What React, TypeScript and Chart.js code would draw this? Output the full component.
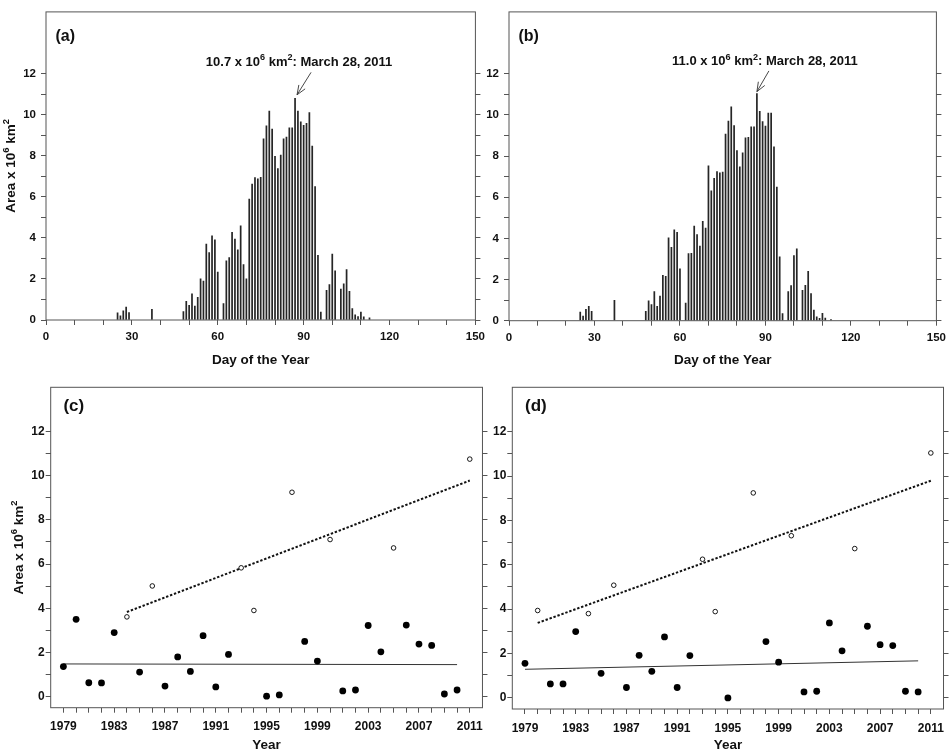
import React, { useEffect, useRef } from "react";
import { Chart, registerables } from "chart.js";
Chart.register(...registerables);

// ---------- DATA ----------
const daysA = [25, 26, 27, 28, 29, 37, 48, 49, 50, 51, 52, 53, 54, 55, 56, 57, 58, 59, 60, 62, 63, 64, 65, 66, 67, 68, 69, 70, 71, 72, 73, 74, 75, 76, 77, 78, 79, 80, 81, 82, 83, 84, 85, 86, 87, 88, 89, 90, 91, 92, 93, 94, 95, 96, 98, 99, 100, 101, 103, 104, 105, 106, 107, 108, 109, 110, 111, 113];
const areaA = [0.35, 0.2, 0.45, 0.63, 0.36, 0.52, 0.41, 0.91, 0.71, 1.28, 0.68, 1.1, 2.0, 1.9, 3.7, 3.28, 4.1, 3.9, 2.33, 0.8, 2.88, 3.04, 4.27, 3.94, 3.42, 4.58, 2.7, 2.0, 5.89, 6.62, 6.93, 6.87, 6.95, 8.82, 9.45, 10.17, 9.3, 7.97, 7.37, 8.03, 8.82, 8.9, 9.35, 9.35, 10.79, 10.17, 9.65, 9.48, 9.57, 10.1, 8.47, 6.5, 3.15, 0.38, 1.45, 1.73, 3.21, 2.39, 1.51, 1.76, 2.46, 1.39, 0.55, 0.25, 0.17, 0.39, 0.16, 0.1];

const daysB = [25, 26, 27, 28, 29, 37, 48, 49, 50, 51, 52, 53, 54, 55, 56, 57, 58, 59, 60, 62, 63, 64, 65, 66, 67, 68, 69, 70, 71, 72, 73, 74, 75, 76, 77, 78, 79, 80, 81, 82, 83, 84, 85, 86, 87, 88, 89, 90, 91, 92, 93, 94, 95, 96, 98, 99, 100, 101, 103, 104, 105, 106, 107, 108, 109, 110, 111, 113];
const areaB = [0.42, 0.23, 0.55, 0.7, 0.45, 0.99, 0.45, 0.97, 0.78, 1.41, 0.7, 1.19, 2.2, 2.15, 4.03, 3.56, 4.42, 4.29, 2.52, 0.85, 3.26, 3.27, 4.6, 4.18, 3.63, 4.83, 4.5, 7.52, 6.31, 6.92, 7.24, 7.18, 7.22, 9.07, 9.7, 10.39, 9.48, 8.26, 7.47, 8.15, 8.88, 8.91, 9.42, 9.42, 11.03, 10.17, 9.67, 9.45, 10.09, 10.09, 8.44, 6.49, 3.1, 0.34, 1.41, 1.71, 3.16, 3.49, 1.47, 1.72, 2.4, 1.32, 0.52, 0.19, 0.11, 0.36, 0.13, 0.06];

const peakDay = 87;
const peakLabelA = "10.7";
const peakLabelB = "11.0";
const peakDate = "March 28, 2011";

const yearsFilledC = [1979, 1980, 1981, 1982, 1983, 1985, 1987, 1988, 1989, 1990, 1991, 1992, 1995, 1996, 1998, 1999, 2001, 2002, 2003, 2004, 2006, 2007, 2008, 2009, 2010];
const areaFilledC = [1.36, 3.5, 0.63, 0.62, 2.9, 1.11, 0.48, 1.8, 1.14, 2.76, 0.44, 1.91, 0.02, 0.08, 2.5, 1.61, 0.26, 0.3, 3.22, 2.03, 3.24, 2.38, 2.32, 0.12, 0.3];
const yearsOpenC = [1984, 1986, 1993, 1994, 1997, 2000, 2005, 2011];
const areaOpenC = [3.61, 5.01, 5.83, 3.9, 9.25, 7.11, 6.73, 10.75];
const trendFilledC = [[1979, 1.48], [2010, 1.45]];
const trendOpenC = [[1984, 3.83], [2011, 9.78]];

const yearsFilledD = [1979, 1981, 1982, 1983, 1985, 1987, 1988, 1989, 1990, 1991, 1992, 1995, 1998, 1999, 2001, 2002, 2003, 2004, 2006, 2007, 2008, 2009, 2010];
const areaFilledD = [1.56, 0.63, 0.63, 2.99, 1.11, 0.47, 1.92, 1.2, 2.75, 0.47, 1.91, 0.0, 2.54, 1.61, 0.27, 0.3, 3.38, 2.12, 3.23, 2.4, 2.36, 0.3, 0.27];
const yearsOpenD = [1980, 1984, 1986, 1993, 1994, 1997, 2000, 2005, 2011];
const areaOpenD = [3.94, 3.8, 5.08, 6.25, 3.89, 9.24, 7.31, 6.73, 11.04];
const trendFilledD = [[1979, 1.29], [2010, 1.67]];
const trendOpenD = [[1980, 3.38], [2011, 9.79]];

const dayTicks = [0, 10, 20, 30, 40, 50, 60, 70, 80, 90, 100, 110, 120, 130, 140, 150];
const dayLabels = [0, 30, 60, 90, 120, 150];
const areaTicks = [0, 1, 2, 3, 4, 5, 6, 7, 8, 9, 10, 11, 12];
const areaLabels = [0, 2, 4, 6, 8, 10, 12];
const yearTicks = [1979, 1980, 1981, 1982, 1983, 1984, 1985, 1986, 1987, 1988, 1989, 1990, 1991, 1992, 1993, 1994, 1995, 1996, 1997, 1998, 1999, 2000, 2001, 2002, 2003, 2004, 2005, 2006, 2007, 2008, 2009, 2010, 2011];
const yearLabels = [1979, 1983, 1987, 1991, 1995, 1999, 2003, 2007, 2011];

// ---------- STYLE ----------
const FONT = "'Liberation Sans', Arial, Helvetica, sans-serif";
const INK = "#111";
const FRAME = "#555";

type Seg = { t: string; sup?: boolean };
const areaTitle: Seg[] = [{ t: "Area x 10" }, { t: "6", sup: true }, { t: " km" }, { t: "2", sup: true }];

function drawRich(ctx: CanvasRenderingContext2D, segs: Seg[], x: number, y: number, size: number, align: "center" | "left") {
  const sup = size * 0.7;
  const widths = segs.map((s) => {
    ctx.font = `bold ${s.sup ? sup : size}px ${FONT}`;
    return ctx.measureText(s.t).width;
  });
  const total = widths.reduce((a, b) => a + b, 0);
  let cx = align === "center" ? x - total / 2 : x;
  ctx.textAlign = "left";
  ctx.textBaseline = "alphabetic";
  segs.forEach((s, i) => {
    ctx.font = `bold ${s.sup ? sup : size}px ${FONT}`;
    ctx.fillText(s.t, cx, s.sup ? y - size * 0.42 : y);
    cx += widths[i];
  });
}

type Decor = {
  panel: string;
  panelSize: number;
  panelDx: number;
  panelDy: number;
  yTitleX?: number;
  annot?: {
    label: string; value: number;
    textDx: number; textDy: number; tipDx: number; tipDy: number; tailDx: number; tailDy: number;
  };
};

function decorPlugin(cfg: Decor) {
  return {
    id: "decor",
    afterDraw(chart: any) {
      const { ctx, chartArea: ca, scales } = chart;
      ctx.save();
      ctx.strokeStyle = FRAME;
      ctx.lineWidth = 1;
      ctx.strokeRect(ca.left, ca.top, ca.right - ca.left, ca.bottom - ca.top);
      ctx.fillStyle = INK;
      ctx.textAlign = "left";
      ctx.textBaseline = "alphabetic";
      ctx.font = `bold ${cfg.panelSize}px ${FONT}`;
      ctx.fillText(cfg.panel, ca.left + cfg.panelDx, ca.top + cfg.panelDy);
      if (cfg.yTitleX != null) {
        ctx.save();
        ctx.translate(cfg.yTitleX, (ca.top + ca.bottom) / 2);
        ctx.rotate(-Math.PI / 2);
        drawRich(ctx, areaTitle, 0, 0, 13.5, "center");
        ctx.restore();
      }
      if (cfg.annot) {
        const a = cfg.annot;
        const bx = scales.x.getPixelForValue(peakDay);
        const by = scales.y.getPixelForValue(a.value);
        const segs: Seg[] = [{ t: `${a.label} x 10` }, { t: "6", sup: true }, { t: " km" }, { t: "2", sup: true }, { t: `: ${peakDate}` }];
        drawRich(ctx, segs, bx + a.textDx, by + a.textDy, 13, "center");
        const tx = bx + a.tipDx, ty = by + a.tipDy, sx = bx + a.tailDx, sy = by + a.tailDy;
        ctx.strokeStyle = "#333";
        ctx.lineWidth = 0.9;
        ctx.beginPath();
        ctx.moveTo(sx, sy);
        ctx.lineTo(tx, ty);
        const ang = Math.atan2(ty - sy, tx - sx);
        const L = 10;
        ctx.moveTo(tx, ty);
        ctx.lineTo(tx - L * Math.cos(ang - 0.38), ty - L * Math.sin(ang - 0.38));
        ctx.moveTo(tx, ty);
        ctx.lineTo(tx - L * Math.cos(ang + 0.38), ty - L * Math.sin(ang + 0.38));
        ctx.stroke();
      }
      ctx.restore();
    },
  };
}

type Box = { yWidth: number; y2Width: number; xHeight: number; padTop: number; xPad: number; yPad: number; titlePad: number; tickSize: number };

function axes(box: Box, x: { min: number; max: number; ticks: number[]; labels: number[]; title: string }, y: { min: number; max: number }) {
  const tickFont = { family: FONT, size: box.tickSize, weight: "bold" as const };
  const grid = { drawOnChartArea: false, drawTicks: true, tickLength: 5, color: FRAME, lineWidth: 1, offset: false };
  const yTicksFn = (s: any) => { s.ticks = areaTicks.map((v) => ({ value: v })); };
  return {
    x: {
      type: "linear" as const, min: x.min, max: x.max, offset: false,
      afterBuildTicks: (s: any) => { s.ticks = x.ticks.map((v) => ({ value: v })); },
      afterFit: (s: any) => { s.height = box.xHeight; },
      grid, border: { display: false },
      ticks: { autoSkip: false, maxRotation: 0, padding: box.xPad, font: tickFont, color: INK, callback: (v: any) => (x.labels.includes(Number(v)) ? String(v) : "") },
      title: { display: true, text: x.title, color: INK, font: { family: FONT, size: 13.5, weight: "bold" as const }, padding: { top: 0, bottom: box.titlePad } },
    },
    y: {
      type: "linear" as const, position: "left" as const, min: y.min, max: y.max,
      afterBuildTicks: yTicksFn,
      afterFit: (s: any) => { s.width = box.yWidth; },
      grid, border: { display: false },
      ticks: { autoSkip: false, padding: box.yPad, font: tickFont, color: INK, callback: (v: any) => (areaLabels.includes(Number(v)) ? String(v) : "") },
    },
    y2: {
      type: "linear" as const, position: "right" as const, min: y.min, max: y.max,
      afterBuildTicks: yTicksFn,
      afterFit: (s: any) => { s.width = box.y2Width; },
      grid, border: { display: false },
      ticks: { display: false },
    },
  };
}

function barConfig(days: number[], areas: number[], box: Box, decor: Decor): any {
  return {
    type: "bar",
    data: {
      datasets: [{
        data: days.map((d, i) => ({ x: d, y: areas[i] })),
        backgroundColor: "#262626",
        borderWidth: 0,
        barThickness: 1.05,
        yAxisID: "y",
      }],
    },
    options: {
      responsive: false, animation: false,
      layout: { padding: { top: box.padTop, left: 0, right: 0, bottom: 0 } },
      plugins: { legend: { display: false }, tooltip: { enabled: false } },
      scales: axes(box, { min: 0, max: 150, ticks: dayTicks, labels: dayLabels, title: "Day of the Year" }, { min: 0, max: 15 }),
    },
    plugins: [decorPlugin(decor)],
  };
}

function scatterConfig(yf: number[], af: number[], yo: number[], ao: number[], tf: number[][], to: number[][], box: Box, decor: Decor): any {
  return {
    type: "scatter",
    data: {
      datasets: [
        { data: tf.map((p) => ({ x: p[0], y: p[1] })), showLine: true, borderColor: "#333", borderWidth: 1, pointRadius: 0, order: 3 },
        { data: to.map((p) => ({ x: p[0], y: p[1] })), showLine: true, borderColor: "#111", borderWidth: 2, borderDash: [2.4, 1.8], pointRadius: 0, order: 3 },
        { data: yf.map((v, i) => ({ x: v, y: af[i] })), pointRadius: 3.4, backgroundColor: "#000", borderColor: "#000", borderWidth: 0, order: 1 },
        { data: yo.map((v, i) => ({ x: v, y: ao[i] })), pointRadius: 2.3, backgroundColor: "#fff", borderColor: "#000", borderWidth: 0.9, order: 1 },
      ],
    },
    options: {
      responsive: false, animation: false,
      layout: { padding: { top: box.padTop, left: 0, right: 0, bottom: 0 } },
      plugins: { legend: { display: false }, tooltip: { enabled: false } },
      scales: axes(box, { min: 1978, max: 2012, ticks: yearTicks, labels: yearLabels, title: "Year" }, { min: -0.5, max: 14 }),
    },
    plugins: [decorPlugin(decor)],
  };
}

function Panel({ build, left, top, width, height }: { build: () => any; left: number; top: number; width: number; height: number }) {
  const ref = useRef<HTMLCanvasElement>(null);
  useEffect(() => {
    const chart = new Chart(ref.current as HTMLCanvasElement, build());
    return () => chart.destroy();
  }, []);
  return <canvas ref={ref} width={width} height={height} style={{ position: "absolute", left, top, width, height }} />;
}

export default function App() {
  return (
    <div style={{ position: "absolute", left: 0, top: 0, width: 951, height: 753, background: "#fff", overflow: "hidden" }}>
      <Panel left={0} top={0} width={490} height={375}
        build={() => barConfig(daysA, areaA,
          { yWidth: 46, y2Width: 11.3, xHeight: 55, padTop: 1, xPad: 5, yPad: 5, titlePad: 7, tickSize: 11.5 },
          { panel: "(a)", panelSize: 16, panelDx: 9.5, panelDy: 29, yTitleX: 15,
            annot: { label: peakLabelA, value: areaA[daysA.indexOf(peakDay)], textDx: 4, textDy: -32.6, tipDx: 2, tipDy: -3.6, tailDx: 16, tailDy: -26 } })} />
      <Panel left={470} top={0} width={481} height={375}
        build={() => barConfig(daysB, areaB,
          { yWidth: 39, y2Width: 12.7, xHeight: 54.3, padTop: 1, xPad: 5, yPad: 5, titlePad: 7, tickSize: 11.5 },
          { panel: "(b)", panelSize: 16, panelDx: 9.5, panelDy: 29,
            annot: { label: peakLabelB, value: areaB[daysB.indexOf(peakDay)], textDx: 8, textDy: -28.3, tipDx: 0, tipDy: -2, tailDx: 12, tailDy: -22.7 } })} />
      <Panel left={0} top={375} width={490} height={378}
        build={() => scatterConfig(yearsFilledC, areaFilledC, yearsOpenC, areaOpenC, trendFilledC, trendOpenC,
          { yWidth: 50.7, y2Width: 7.3, xHeight: 45.3, padTop: 12.3, xPad: 7, yPad: 1, titlePad: 0, tickSize: 12 },
          { panel: "(c)", panelSize: 17, panelDx: 12.7, panelDy: 24, yTitleX: 22.7 })} />
      <Panel left={470} top={375} width={481} height={378}
        build={() => scatterConfig(yearsFilledD, areaFilledD, yearsOpenD, areaOpenD, trendFilledD, trendOpenD,
          { yWidth: 42.3, y2Width: 5.3, xHeight: 44, padTop: 12.3, xPad: 7, yPad: 1, titlePad: 0, tickSize: 12 },
          { panel: "(d)", panelSize: 17, panelDx: 12.7, panelDy: 24 })} />
    </div>
  );
}
